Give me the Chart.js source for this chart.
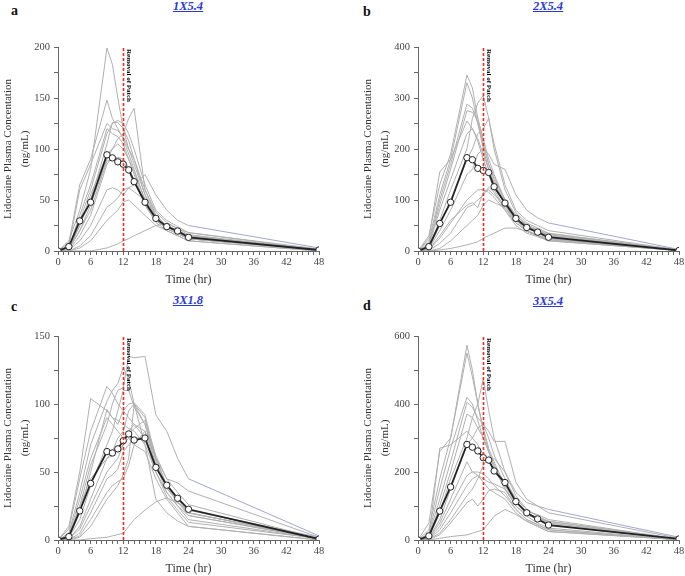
<!DOCTYPE html>
<html>
<head>
<meta charset="utf-8">
<script src="https://cdn.jsdelivr.net/npm/chart.js@4.4.1/dist/chart.umd.min.js"></script>
<style>
html, body { margin: 0; padding: 0; background: #fff; width: 685px; height: 576px; overflow: hidden; position: relative; }
canvas { position: absolute; }
.tag { position: absolute; font: bold 14px "Liberation Serif", serif; color: #111; }
.ttl { position: absolute; font: italic bold 12.5px "Liberation Serif", serif; color: #2b3bd6; text-decoration: underline; transform: translateX(-50%); white-space: nowrap; }
</style>
</head>
<body>
<div class="tag" style="left:11px;top:3px">a</div>
<div class="ttl" style="left:188px;top:-1px">1X5.4</div>
<div class="tag" style="left:363px;top:4px">b</div>
<div class="ttl" style="left:548px;top:-1px">2X5.4</div>
<div class="tag" style="left:11px;top:299px">c</div>
<div class="ttl" style="left:188px;top:293px">3X1.8</div>
<div class="tag" style="left:363px;top:298px">d</div>
<div class="ttl" style="left:548px;top:294px">3X5.4</div>

<canvas id="chartA" width="342" height="289" style="left:0;top:0"></canvas>
<canvas id="chartB" width="326" height="289" style="left:360px;top:0"></canvas>
<canvas id="chartC" width="342" height="289" style="left:0;top:289px"></canvas>
<canvas id="chartD" width="326" height="289" style="left:360px;top:289px"></canvas>

<script>
// sampling times (hr)
var hours = [0, 2, 4, 6, 9, 10, 11, 12, 13, 14, 16, 18, 20, 22, 24, 48];
var removalTime = 12;

// 1X5.4
var meanA = [0, 4.3, 29.5, 47.8, 94.3, 91.3, 87.4, 85.1, 79.5, 68, 47.8, 32, 23.9, 19.6, 13.4, 1];
var subjectsA = [
    [0, 10, 40, 80, 199, 183, 150, 120, 100, 85, 55, 35, 25, 20, 15, 1],
    [0, 8, 65, 90, 148, 130, 120, 110, 95, 80, 50, 32, 24, 18, 14, 1],
    [0, 5, 60, 85, 125, 120, 118, 112, 100, 90, 60, 38, 28, 22, 16, 1],
    [0, 3, 30, 60, 115, 125, 128, 125, 115, 100, 65, 40, 30, 24, 18, 2],
    [0, 2, 25, 50, 105, 126, 126, 120, 108, 90, 55, 33, 24, 19, 14, 1],
    [0, 2, 20, 45, 90, 100, 110, 115, 130, 140, 60, 35, 25, 20, 15, 1],
    [0, 3, 35, 65, 120, 115, 112, 105, 90, 75, 45, 30, 22, 17, 12, 1],
    [0, 1, 15, 35, 85, 92, 90, 88, 80, 70, 48, 30, 22, 17, 12, 1],
    [0, 2, 20, 40, 88, 90, 92, 90, 82, 68, 45, 28, 20, 15, 10, 0],
    [0, 1, 10, 25, 60, 62, 60, 55, 62, 65, 75, 55, 40, 30, 25, 3],
    [0, 0, 5, 15, 43, 47, 52, 60, 62, 58, 50, 35, 25, 18, 12, 1],
    [0, 0, 3, 10, 30, 35, 40, 48, 50, 45, 35, 25, 20, 15, 10, 0],
    [0, 0, 0, 0, 3, 5, 7, 10, 12, 15, 20, 25, 27, 22, 18, 1],
    [0, 2, 25, 55, 95, 100, 105, 100, 90, 78, 50, 30, 22, 17, 12, 1]
];

// 2X5.4
var meanB = [0, 8.5, 54, 95.6, 183, 179, 162, 158, 154, 126, 94, 64, 46, 37, 27, 1];
var subjectsB = [
    [0, 30, 130, 190, 345, 320, 260, 210, 170, 145, 100, 70, 52, 42, 34, 2],
    [0, 20, 110, 180, 330, 300, 250, 200, 160, 135, 95, 65, 48, 40, 32, 2],
    [0, 15, 100, 170, 288, 280, 250, 210, 170, 140, 100, 65, 48, 40, 30, 2],
    [0, 12, 90, 160, 275, 272, 260, 220, 180, 150, 100, 70, 50, 40, 30, 1],
    [0, 25, 155, 180, 255, 240, 220, 190, 160, 130, 90, 60, 45, 37, 28, 1],
    [0, 8, 60, 120, 200, 260, 290, 305, 260, 210, 130, 80, 60, 50, 40, 2],
    [0, 5, 50, 100, 180, 200, 230, 240, 260, 200, 120, 75, 55, 45, 35, 2],
    [0, 5, 40, 80, 150, 160, 190, 200, 190, 170, 160, 110, 80, 65, 55, 3],
    [0, 3, 30, 60, 90, 95, 85, 115, 120, 110, 90, 65, 45, 35, 25, 1],
    [0, 2, 25, 55, 100, 110, 120, 120, 115, 105, 80, 55, 40, 30, 22, 1],
    [0, 1, 15, 35, 85, 90, 100, 110, 125, 115, 80, 50, 35, 28, 20, 1],
    [0, 0, 5, 20, 50, 60, 70, 90, 100, 95, 85, 60, 40, 30, 20, 1],
    [0, 0, 2, 5, 12, 15, 18, 25, 30, 35, 45, 45, 38, 30, 22, 1],
    [0, 10, 80, 140, 230, 240, 215, 180, 150, 120, 85, 55, 40, 32, 24, 1]
];

// 3X1.8
var meanC = [0, 2.5, 21.4, 41.6, 65, 64, 67, 73, 78, 73.5, 75, 53.4, 40.3, 30.7, 22.6, 0.7];
var subjectsC = [
    [0, 10, 50, 104, 95, 90, 88, 85, 82, 80, 70, 50, 35, 25, 18, 1],
    [0, 8, 45, 80, 113, 108, 100, 95, 90, 85, 75, 55, 40, 30, 22, 1],
    [0, 5, 35, 70, 102, 110, 115, 127, 118, 100, 85, 60, 45, 35, 26, 1],
    [0, 3, 25, 55, 85, 100, 110, 112, 135, 134, 135, 92, 80, 60, 45, 3],
    [0, 2, 20, 50, 96, 90, 85, 95, 100, 101, 92, 60, 40, 30, 20, 1],
    [0, 2, 15, 40, 70, 80, 95, 110, 110, 98, 85, 55, 38, 28, 20, 1],
    [0, 4, 30, 60, 90, 85, 80, 75, 78, 82, 88, 62, 45, 42, 36, 2],
    [0, 1, 10, 30, 60, 65, 75, 80, 95, 100, 90, 58, 38, 28, 18, 1],
    [0, 1, 8, 25, 50, 55, 60, 70, 80, 85, 80, 55, 35, 25, 15, 1],
    [0, 0, 5, 20, 45, 48, 52, 65, 70, 75, 75, 50, 32, 22, 13, 1],
    [0, 0, 3, 15, 35, 40, 43, 45, 55, 70, 80, 60, 40, 28, 20, 1],
    [0, 0, 2, 10, 30, 35, 40, 48, 60, 100, 70, 30, 20, 14, 10, 0],
    [0, 0, 0, 1, 2, 3, 4, 5, 10, 15, 22, 28, 31, 27, 22, 2],
    [0, 3, 25, 45, 60, 62, 66, 70, 75, 70, 65, 45, 30, 20, 10, 0]
];

// 3X5.4
var meanD = [0, 12, 85, 156, 281, 273, 262, 242, 235, 203, 169, 113, 80, 62, 44, 3];
var subjectsD = [
    [0, 50, 260, 300, 573, 500, 400, 320, 260, 210, 150, 110, 85, 75, 60, 3],
    [0, 30, 180, 300, 550, 480, 400, 330, 270, 230, 160, 110, 80, 65, 55, 3],
    [0, 20, 150, 270, 420, 400, 350, 300, 260, 220, 160, 110, 80, 65, 50, 2],
    [0, 15, 120, 230, 405, 390, 360, 340, 300, 250, 180, 120, 90, 70, 55, 2],
    [0, 10, 100, 200, 370, 360, 330, 300, 260, 220, 150, 100, 75, 60, 45, 2],
    [0, 8, 80, 180, 300, 360, 400, 475, 380, 300, 200, 140, 110, 100, 90, 8],
    [0, 5, 60, 150, 280, 300, 330, 340, 320, 290, 290, 170, 120, 100, 80, 5],
    [0, 10, 270, 280, 320, 300, 280, 250, 230, 210, 170, 110, 80, 60, 45, 2],
    [0, 5, 50, 120, 230, 200, 190, 180, 170, 165, 150, 100, 70, 50, 35, 1],
    [0, 3, 40, 100, 190, 200, 200, 195, 180, 160, 130, 90, 60, 45, 30, 1],
    [0, 2, 30, 80, 160, 180, 190, 170, 150, 140, 120, 80, 55, 40, 25, 1],
    [0, 1, 15, 50, 110, 120, 100, 120, 145, 150, 140, 90, 60, 45, 30, 1],
    [0, 0, 5, 10, 15, 20, 25, 30, 50, 70, 90, 75, 55, 40, 25, 1],
    [0, 2, 20, 60, 130, 150, 180, 220, 240, 240, 200, 130, 90, 70, 50, 2]
];

var serif = '"Liberation Serif", "Times New Roman", serif';

function toPoints(values) {
    return values.map(function(v, i) { return { x: hours[i], y: v }; });
}

var removalPlugin = {
    id: 'removal',
    afterDatasetsDraw: function(chart) {
        var xs = chart.scales.x, ys = chart.scales.y;
        var x = Math.round(xs.getPixelForValue(removalTime)) + 0.5;
        var ctx = chart.ctx;
        ctx.save();
        ctx.strokeStyle = '#f22a22';
        ctx.lineWidth = 1.6;
        ctx.setLineDash([3, 2]);
        ctx.beginPath();
        ctx.moveTo(x, ys.getPixelForValue(0));
        ctx.lineTo(x, ys.getPixelForValue(ys.max));
        ctx.stroke();
        ctx.setLineDash([]);
        ctx.translate(x + 5.5, chart.chartArea.top + 2);
        ctx.rotate(Math.PI / 2);
        ctx.fillStyle = '#000';
        ctx.font = 'bold 7px ' + serif;
        ctx.textAlign = 'left';
        ctx.textBaseline = 'middle';
        ctx.fillText('Removal of Patch', 0, 0);
        ctx.restore();
    }
};

function makePanel(id, mean, subjects, yMax, yStep, yLabelStep, rightPad) {
    var datasets = [{
        data: toPoints(mean),
        borderColor: '#222',
        borderWidth: 1.8,
        pointRadius: 3.2,
        pointBackgroundColor: '#fff',
        pointBorderColor: '#222',
        pointBorderWidth: 1,
        order: 0
    }];
    // subject with the highest 24 hr level has a bluish tail in the reference
    var top24 = 0;
    subjects.forEach(function(s, i) { if (s[14] > subjects[top24][14]) top24 = i; });
    subjects.forEach(function(s, i) {
        datasets.push({
            data: toPoints(s),
            borderColor: '#b0b0b0',
            borderWidth: 1,
            pointRadius: 0,
            order: 1,
            segment: {
                borderColor: function(ctx) {
                    return (i === top24 && ctx.p1.parsed.x === 48) ? '#a4a4d6' : undefined;
                }
            }
        });
    });

    new Chart(document.getElementById(id), {
        type: 'line',
        data: { datasets: datasets },
        options: {
            responsive: false,
            animation: false,
            devicePixelRatio: 1,
            layout: { padding: { top: 47, left: 0, right: rightPad, bottom: 0 } },
            plugins: { legend: { display: false }, tooltip: { enabled: false } },
            scales: {
                x: {
                    type: 'linear',
                    min: 0,
                    max: 48,
                    afterFit: function(scale) { scale.height = 38; },
                    ticks: {
                        stepSize: 1,
                        autoSkip: false,
                        maxRotation: 0,
                        padding: 1,
                        color: '#444',
                        font: { family: serif, size: 10.5 },
                        callback: function(v) { return v % 6 === 0 ? v : ''; }
                    },
                    grid: { drawOnChartArea: false, tickLength: 4, tickColor: '#666' },
                    border: { color: '#666', width: 1 },
                    title: {
                        display: true,
                        text: 'Time (hr)',
                        color: '#333',
                        font: { family: serif, size: 12 },
                        padding: { top: 0, bottom: 2 }
                    }
                },
                y: {
                    min: 0,
                    max: yMax,
                    afterFit: function(scale) { scale.width = 58; },
                    ticks: {
                        stepSize: yStep,
                        autoSkip: false,
                        padding: 4,
                        color: '#444',
                        font: { family: serif, size: 10.5 },
                        callback: function(v) { return v % yLabelStep === 0 ? v : ''; }
                    },
                    grid: { drawOnChartArea: false, tickLength: 4, tickColor: '#666' },
                    border: { color: '#666', width: 1 },
                    title: {
                        display: true,
                        text: ['Lidocaine Plasma Concentation', '(ng/mL)'],
                        color: '#333',
                        font: { family: serif, size: 11, lineHeight: '17px' },
                        padding: { top: 0, bottom: 0 }
                    }
                }
            }
        },
        plugins: [removalPlugin]
    });
}

makePanel('chartA', meanA, subjectsA, 200, 25, 50, 23);
makePanel('chartB', meanB, subjectsB, 400, 50, 100, 7);
makePanel('chartC', meanC, subjectsC, 150, 25, 50, 23);
makePanel('chartD', meanD, subjectsD, 600, 100, 200, 7);
</script>
</body>
</html>
